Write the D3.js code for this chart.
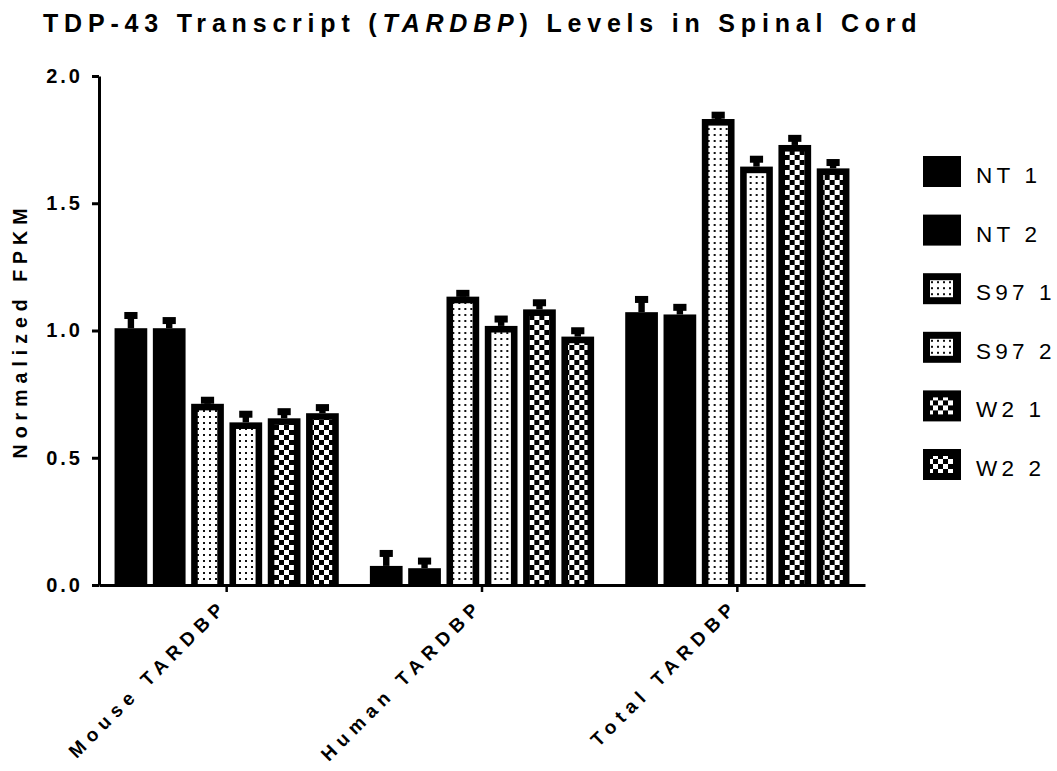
<!DOCTYPE html>
<html>
<head>
<meta charset="utf-8">
<script src="https://cdn.jsdelivr.net/npm/d3@7"></script>
<style>
    body { margin: 0; background: #fff; }
    svg text { font-family: "Liberation Sans", Arial, sans-serif; fill: #000; }
</style>
</head>
<body>
<div class="container"></div>
<script>
const categories = ['Mouse TARDBP', 'Human TARDBP', 'Total TARDBP'];
const seriesNames = ['NT 1', 'NT 2', 'S97 1', 'S97 2', 'W2 1', 'W2 2'];
const seriesFill = ['solid', 'solid', 'dots', 'dots', 'checks', 'checks'];
// means and SEM per category, in series order
const meanMouse = [1.009, 1.009, 0.712, 0.639, 0.655, 0.675];
const semMouse = [0.05, 0.03, 0.014, 0.032, 0.026, 0.022];
const meanHuman = [0.075, 0.066, 1.133, 1.018, 1.083, 0.976];
const semHuman = [0.049, 0.028, 0.013, 0.027, 0.026, 0.023];
const meanTotal = [1.072, 1.063, 1.831, 1.644, 1.729, 1.637];
const semTotal = [0.05, 0.028, 0.015, 0.029, 0.026, 0.023];
const yTicks = [0, 0.5, 1.0, 1.5, 2.0];

const drawChart = () => {
    const w = 1057, h = 771,
        plot = { left: 99, right: 865, top: 76, bottom: 585 },
        border = 6.6;

    const rows = [
        { cat: categories[0], mean: meanMouse, sem: semMouse },
        { cat: categories[1], mean: meanHuman, sem: semHuman },
        { cat: categories[2], mean: meanTotal, sem: semTotal }
    ];

    const x0 = d3.scaleBand()
        .domain(categories)
        .range([plot.left, plot.right]);

    const x1 = d3.scaleBand()
        .domain(seriesNames)
        .range([0, x0.bandwidth()])
        .paddingInner(0.146)
        .paddingOuter(0.406);

    const y = d3.scaleLinear()
        .domain([0, 2])
        .range([plot.bottom, plot.top]);

    const svg = d3.select("div.container")
        .append("svg")
        .attr("width", w)
        .attr("height", h);

    // fill patterns
    const defs = svg.append("defs");
    const dots = defs.append("pattern")
        .attr("id", "dots")
        .attr("patternUnits", "userSpaceOnUse")
        .attr("width", 6).attr("height", 6);
    dots.append("rect").attr("width", 6).attr("height", 6).attr("fill", "#fff");
    dots.append("rect").attr("x", 2).attr("y", 2).attr("width", 2).attr("height", 2).attr("fill", "#111");

    const checks = defs.append("pattern")
        .attr("id", "checks")
        .attr("patternUnits", "userSpaceOnUse")
        .attr("width", 10).attr("height", 10);
    checks.append("rect").attr("width", 10).attr("height", 10).attr("fill", "#fff");
    checks.append("rect").attr("width", 5).attr("height", 5).attr("fill", "#000");
    checks.append("rect").attr("x", 5).attr("y", 5).attr("width", 5).attr("height", 5).attr("fill", "#000");

    // title
    const title = svg.append("text")
        .attr("x", 43)
        .attr("y", 32)
        .style("font-size", "25px")
        .style("font-weight", "bold")
        .style("letter-spacing", "5.8px");
    title.append("tspan").text("TDP-43 Transcript (");
    title.append("tspan").style("font-style", "italic").text("TARDBP");
    title.append("tspan").text(") Levels in Spinal Cord");

    // bars
    const groups = svg.selectAll("g.group")
        .data(rows)
        .enter()
        .append("g")
        .attr("class", "group")
        .attr("transform", d => "translate(" + x0(d.cat) + ",0)");

    const bars = groups.selectAll("g.bar")
        .data(d => seriesNames.map((s, i) => ({ s: s, v: d.mean[i], e: d.sem[i], fill: seriesFill[i] })))
        .enter()
        .append("g")
        .attr("class", "bar");

    bars.append("rect")
        .attr("x", d => x1(d.s))
        .attr("y", d => y(d.v))
        .attr("width", x1.bandwidth())
        .attr("height", d => y(0) - y(d.v))
        .attr("fill", "#000");

    bars.filter(d => d.fill !== "solid")
        .append("rect")
        .attr("x", d => x1(d.s) + border)
        .attr("y", d => y(d.v) + border)
        .attr("width", x1.bandwidth() - 2 * border)
        .attr("height", d => Math.max(0, y(0) - y(d.v) - border))
        .attr("fill", d => "url(#" + d.fill + ")");

    // error bars (upper only)
    bars.append("rect")
        .attr("x", d => x1(d.s) + x1.bandwidth() / 2 - 3.2)
        .attr("y", d => y(d.v + d.e))
        .attr("width", 6.4)
        .attr("height", d => y(d.v) - y(d.v + d.e));

    bars.append("rect")
        .attr("x", d => x1(d.s) + x1.bandwidth() / 2 - 6.6)
        .attr("y", d => y(d.v + d.e) - 3.5)
        .attr("width", 13.2)
        .attr("height", 7);

    // axes
    const yAxis = d3.axisLeft(y)
        .tickValues(yTicks)
        .tickSize(7)
        .tickSizeOuter(0)
        .tickPadding(9)
        .tickFormat(d3.format(".1f"));

    const gy = svg.append("g")
        .attr("id", "y-axis")
        .attr("transform", "translate(" + plot.left + ",0)")
        .call(yAxis);
    gy.select(".domain").attr("stroke-width", 3);
    gy.selectAll(".tick line").attr("stroke-width", 3);
    gy.selectAll(".tick text")
        .style("font-size", "20px")
        .style("font-weight", "bold")
        .style("letter-spacing", "3px");

    const xAxis = d3.axisBottom(x0)
        .tickSize(7)
        .tickSizeOuter(0);

    const gx = svg.append("g")
        .attr("id", "x-axis")
        .attr("transform", "translate(0," + plot.bottom + ")")
        .call(xAxis);
    gx.select(".domain").attr("stroke-width", 3);
    gx.selectAll(".tick line").attr("stroke-width", 2.5);
    gx.selectAll(".tick text")
        .attr("x", 0).attr("y", 0).attr("dy", 0)
        .attr("text-anchor", "end")
        .attr("transform", "translate(2,22) rotate(-45)")
        .style("font-size", "19px")
        .style("font-weight", "bold")
        .style("letter-spacing", "6px");

    svg.append("text")
        .attr("transform", "translate(27," + ((plot.top + plot.bottom) / 2) + ") rotate(-90)")
        .attr("text-anchor", "middle")
        .style("font-size", "19.5px")
        .style("font-weight", "bold")
        .style("letter-spacing", "6px")
        .text("Normalized FPKM");

    // legend
    const legend = svg.selectAll("g.legend")
        .data(seriesNames)
        .enter()
        .append("g")
        .attr("class", "legend")
        .attr("transform", (d, i) => "translate(923," + (156 + i * 58.6) + ")");

    legend.append("rect")
        .attr("width", 38)
        .attr("height", 31)
        .attr("fill", "#000");

    legend.filter((d, i) => seriesFill[i] !== "solid")
        .append("rect")
        .attr("x", 7).attr("y", 7)
        .attr("width", 23).attr("height", 17)
        .attr("fill", d => "url(#" + seriesFill[seriesNames.indexOf(d)] + ")");

    legend.append("text")
        .attr("x", 53)
        .attr("y", 27)
        .style("font-size", "22.5px")
        .style("letter-spacing", "4.2px")
        .text(d => d);
};

drawChart();
</script>
</body>
</html>
